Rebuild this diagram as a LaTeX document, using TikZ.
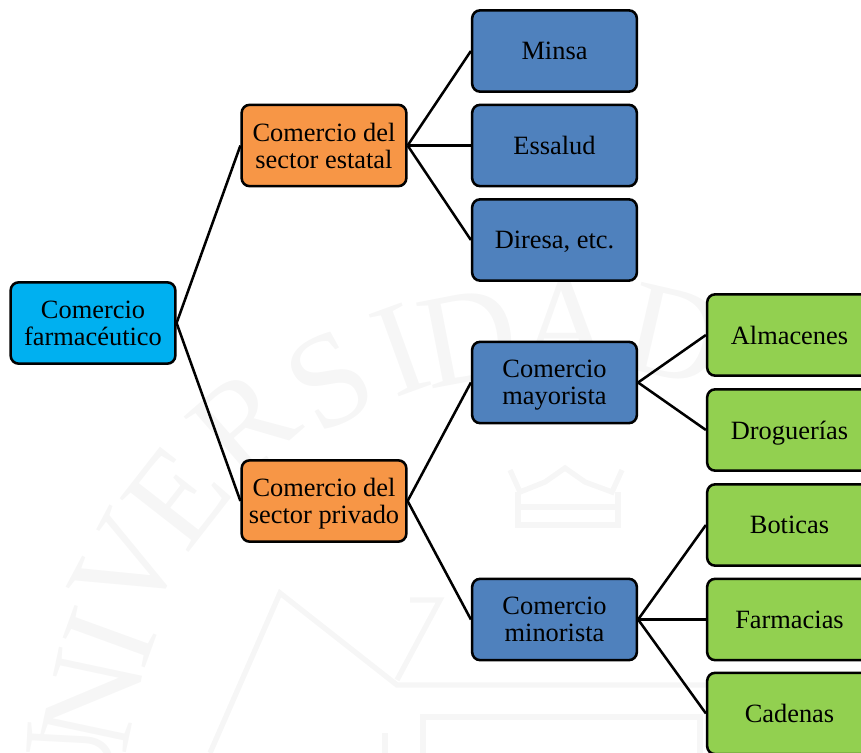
\documentclass[tikz,border=0pt]{standalone}
\usepackage{fontspec}
\setmainfont{Liberation Serif}
\definecolor{cy}{HTML}{00B0F0}
\definecolor{or}{HTML}{F79646}
\definecolor{bl}{HTML}{4F81BD}
\definecolor{gr}{HTML}{92D050}
\definecolor{wm}{HTML}{F6F6F6}
\tikzset{
 box/.style={draw=black,line width=1.9pt,rounded corners=6pt,minimum width=123.5pt,minimum height=61pt,align=center,inner sep=0pt,text depth=0pt,font=\fontsize{19.8}{20.3}\selectfont,text=black},
 link/.style={draw=black,line width=1.9pt},
 wmletter/.style={text=wm,inner sep=0pt,font=\fontsize{100}{100}\selectfont},
 wmline/.style={draw=wm,line width=4pt}
}
\begin{document}
\begin{tikzpicture}[x=0.75pt,y=-0.75pt]
\useasboundingbox (0,0) rectangle (861,753);
% faint watermark
\foreach \n/\t/\px/\py/\r in {a/D/675/335/-13,b/A/566/325/0,c/D/468/338/11,d/I/400/350/20,e/S/330/380/29,f/R/243/423/41,g/E/177/497/52,h/V/127/567/62,i/I/110/637/70,j/N/93/700/78,k/U/70/770/87}
  \node[wmletter,rotate=\r] (w\n) at (\px,\py) {\t};
\draw[wmline] (510,470) -- (520,492) -- (545,482) -- (565,468) -- (585,482) -- (612,492) -- (622,470);
\draw[wmline] (518,492) -- (518,525) -- (618,525) -- (618,492);
\draw[wmline] (518,507) -- (618,507);
\draw[wmline] (210,753) -- (280,593) -- (397,685) -- (735,685);
\draw[wmline] (410,600) -- (440,600) -- (397,680);
\draw[wmline] (385,733) -- (385,753);
\draw[wmline] (423,753) -- (423,717) -- (700,717) -- (700,753);
\node[box,fill=cy] (root) at (93,323) {Comercio\\farmacéutico};
\node[box,fill=or] (est) at (324,145.5) {Comercio del\\sector estatal};
\node[box,fill=or] (pri) at (324,501) {Comercio del\\sector privado};
\node[box,fill=bl] (minsa) at (554.5,51) {Minsa};
\node[box,fill=bl] (ess) at (554.5,145.5) {Essalud};
\node[box,fill=bl] (dir) at (554.5,240) {Diresa, etc.};
\node[box,fill=bl] (may) at (554.5,382.5) {Comercio\\mayorista};
\node[box,fill=bl] (mnr) at (554.5,619.5) {Comercio\\minorista};
\node[box,fill=gr] (alm) at (789.5,335) {Almacenes};
\node[box,fill=gr] (dro) at (789.5,430) {Droguerías};
\node[box,fill=gr] (bot) at (789.5,525) {Boticas};
\node[box,fill=gr] (far) at (789.5,619.5) {Farmacias};
\node[box,fill=gr] (cad) at (789.5,713.5) {Cadenas};
\foreach \a/\b in {root/est,root/pri,est/minsa,est/ess,est/dir,pri/may,pri/mnr,may/alm,may/dro,mnr/bot,mnr/far,mnr/cad}
  \draw[link] (\a.east) -- (\b.west);
\end{tikzpicture}
\end{document}
